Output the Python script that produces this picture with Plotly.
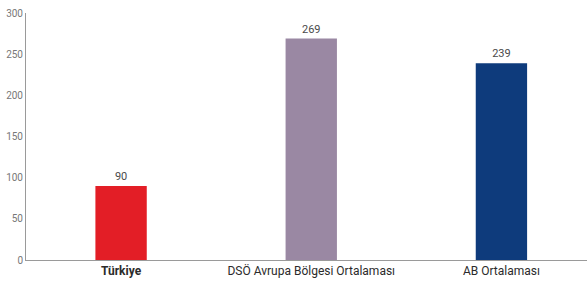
import plotly.graph_objects as go

categories = ["Türkiye", "DSÖ Avrupa Bölgesi Ortalaması", "AB Ortalaması"]
tick_labels = ["<b>Türkiye</b>", "DSÖ Avrupa Bölgesi Ortalaması", "AB Ortalaması"]
values = [90, 269, 239]
colors = ["#E31E26", "#9A88A3", "#0E3B7C"]
y_ticks = [0, 50, 100, 150, 200, 250, 300]

fig = go.Figure(go.Bar(
    x=categories, y=values,
    marker=dict(color=colors, line=dict(width=0)),
    width=0.27,
    text=[str(v) for v in values], textposition="outside",
    textfont=dict(family="Roboto", size=11, color="#4a4a4a"),
    cliponaxis=False,
))
fig.update_layout(
    width=587, height=284,
    margin=dict(l=26, r=0, t=13, b=24, autoexpand=False),
    paper_bgcolor="white", plot_bgcolor="white",
    showlegend=False,
    font=dict(family="Roboto", size=11, color="#333333"),
)
fig.update_xaxes(
    range=[-0.5, 2.45], automargin=False,
    tickvals=categories, ticktext=tick_labels,
    showline=True, linecolor="#9a9a9a", linewidth=1,
    ticks="", showgrid=False,
    tickfont=dict(family="Roboto", size=12, color="#2b2b2b"),
)
fig.update_yaxes(
    range=[0, 300], tickvals=y_ticks, automargin=False,
    showline=True, linecolor="#9a9a9a", linewidth=1,
    ticks="", showgrid=False, zeroline=False,
    tickfont=dict(family="Roboto", size=10, color="#777777"),
)
fig.write_html("out.html", config={"displayModeBar": False},
               post_script="document.body.style.margin='0';document.body.style.overflow='hidden';")
